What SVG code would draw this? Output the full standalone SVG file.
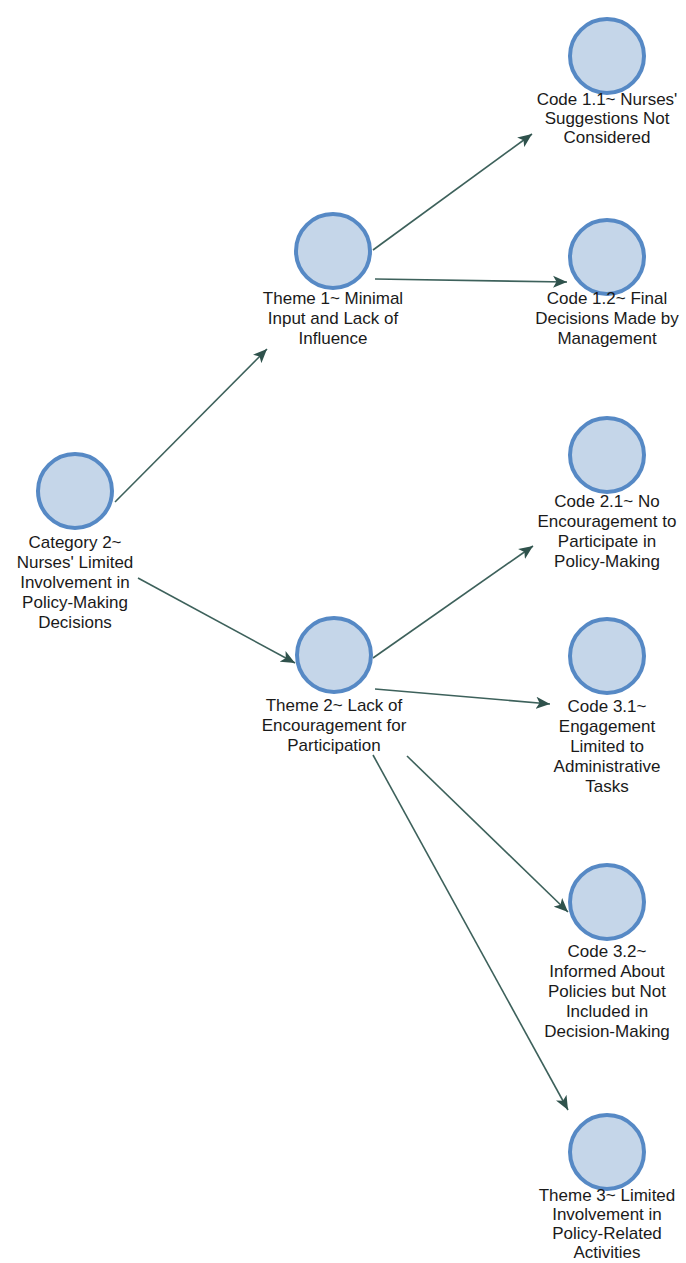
<svg xmlns="http://www.w3.org/2000/svg" width="686" height="1263" viewBox="0 0 686 1263">
<style>
.n circle{fill:#c5d6e9;stroke:#5689c5;stroke-width:4}
.n text{font-family:"Liberation Sans",Arial,sans-serif;font-size:17px;fill:#1a1a1a;text-anchor:middle}
.e line{stroke:#3d615b;stroke-width:1.6;marker-end:url(#ah)}
</style>
<defs>
<marker id="ah" markerUnits="userSpaceOnUse" markerWidth="15" markerHeight="13" refX="14" refY="6.5" orient="auto">
<path d="M0,0.5 L14,6.5 L0,12.5 L3.5,6.5 z" fill="#2f524c"/>
</marker>
</defs>
<rect width="686" height="1263" fill="#ffffff"/>
<g class="e" id="edges">
<line x1="115" y1="502" x2="267" y2="349"/>
<line x1="138" y1="578" x2="295" y2="663"/>
<line x1="373" y1="250" x2="532" y2="134"/>
<line x1="375" y1="279" x2="567" y2="282"/>
<line x1="373" y1="658" x2="533" y2="546"/>
<line x1="375" y1="689" x2="550" y2="704"/>
<line x1="407" y1="756" x2="568" y2="912"/>
<line x1="373" y1="755" x2="568" y2="1110"/>
</g>
<g class="n" id="cat2">
<circle cx="75" cy="491" r="37"/>
<text x="75" y="548">Category 2~</text>
<text x="75" y="568">Nurses' Limited</text>
<text x="75" y="588">Involvement in</text>
<text x="75" y="608">Policy-Making</text>
<text x="75" y="628">Decisions</text>
</g>
<g class="n" id="theme1">
<circle cx="333" cy="251" r="37"/>
<text x="333" y="304">Theme 1~ Minimal</text>
<text x="333" y="324">Input and Lack of</text>
<text x="333" y="344">Influence</text>
</g>
<g class="n" id="code11">
<circle cx="607" cy="56" r="37"/>
<text x="607" y="105">Code 1.1~ Nurses'</text>
<text x="607" y="124">Suggestions Not</text>
<text x="607" y="143">Considered</text>
</g>
<g class="n" id="code12">
<circle cx="607" cy="257" r="37"/>
<text x="607" y="304">Code 1.2~ Final</text>
<text x="607" y="324">Decisions Made by</text>
<text x="607" y="344">Management</text>
</g>
<g class="n" id="code21">
<circle cx="607" cy="455" r="37"/>
<text x="607" y="507">Code 2.1~ No</text>
<text x="607" y="527">Encouragement to</text>
<text x="607" y="547">Participate in</text>
<text x="607" y="567">Policy-Making</text>
</g>
<g class="n" id="theme2">
<circle cx="334" cy="655" r="37"/>
<text x="334" y="711">Theme 2~ Lack of</text>
<text x="334" y="731">Encouragement for</text>
<text x="334" y="751">Participation</text>
</g>
<g class="n" id="code31">
<circle cx="607" cy="656" r="37"/>
<text x="607" y="712">Code 3.1~</text>
<text x="607" y="732">Engagement</text>
<text x="607" y="752">Limited to</text>
<text x="607" y="772">Administrative</text>
<text x="607" y="792">Tasks</text>
</g>
<g class="n" id="code32">
<circle cx="607" cy="902" r="37"/>
<text x="607" y="957">Code 3.2~</text>
<text x="607" y="977">Informed About</text>
<text x="607" y="997">Policies but Not</text>
<text x="607" y="1017">Included in</text>
<text x="607" y="1037">Decision-Making</text>
</g>
<g class="n" id="theme3">
<circle cx="607" cy="1152" r="37"/>
<text x="607" y="1201">Theme 3~ Limited</text>
<text x="607" y="1220">Involvement in</text>
<text x="607" y="1239">Policy-Related</text>
<text x="607" y="1258">Activities</text>
</g>
</svg>
